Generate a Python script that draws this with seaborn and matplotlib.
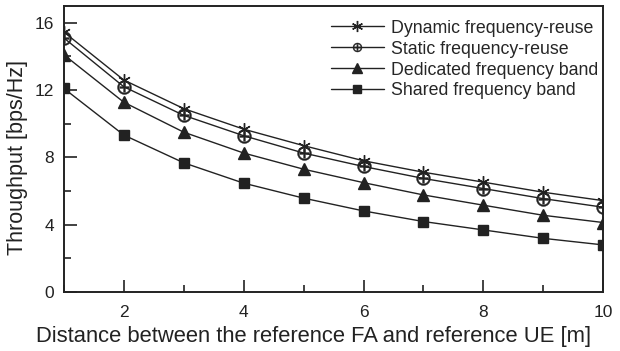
import matplotlib
matplotlib.use("Agg")
import matplotlib.pyplot as plt
from matplotlib.ticker import MultipleLocator
import seaborn as sns
import pandas as pd

distance = [1, 2, 3, 4, 5, 6, 7, 8, 9, 10]
dynamic_reuse = [15.45, 12.6, 10.9, 9.68, 8.7, 7.8, 7.12, 6.53, 5.93, 5.43]
static_reuse = [15.1, 12.2, 10.5, 9.29, 8.26, 7.46, 6.75, 6.15, 5.55, 5.04]
dedicated_band = [14.1, 11.28, 9.5, 8.26, 7.3, 6.5, 5.77, 5.16, 4.56, 4.13]
shared_band = [12.1, 9.33, 7.68, 6.47, 5.58, 4.82, 4.19, 3.69, 3.19, 2.8]

series_names = ["Dynamic frequency-reuse", "Static frequency-reuse",
                "Dedicated frequency band", "Shared frequency band"]
series_values = [dynamic_reuse, static_reuse, dedicated_band, shared_band]

x_ticks = [2, 4, 6, 8, 10]
y_ticks = [0, 4, 8, 12, 16]

sns.set_theme(style="ticks")
plt.rcParams["font.family"] = ["Liberation Sans", "DejaVu Sans"]
plt.rcParams["mathtext.fontset"] = "dejavusans"

fig = plt.figure(figsize=(6.2, 3.51), dpi=100)
ax = fig.add_axes([0.103, 0.168, 0.870, 0.815])

ink = "#222222"
marker_styles = [
    dict(marker=(6, 2, 0), markersize=9, markeredgewidth=1.0),
    dict(marker="$\\oplus$", markersize=10, markeredgewidth=0.3),
    dict(marker="^", markersize=8, markeredgewidth=1.0),
    dict(marker="s", markersize=6.5, markeredgewidth=1.0),
]
legend_sizes = [8, 6.5, 7.5, 6]

for name, values, mstyle in zip(series_names, series_values, marker_styles):
    df = pd.DataFrame({"distance": distance, "throughput": values})
    sns.lineplot(data=df, x="distance", y="throughput", color=ink,
                 linewidth=1.0, markerfacecolor=ink, markeredgecolor=ink,
                 label=name, ax=ax, legend=False, **mstyle)

handles = []
for mstyle, msize in zip(marker_styles, legend_sizes):
    hs = dict(mstyle)
    hs["markersize"] = msize
    handles.append(plt.Line2D([], [], color=ink, linewidth=1.0,
                              markerfacecolor=ink, markeredgecolor=ink, **hs))
ax.legend(handles, series_names, loc="upper right", frameon=False,
          fontsize=12.8, handlelength=3.0, handletextpad=0.4,
          labelspacing=0.22, borderaxespad=0.0, borderpad=0.0,
          bbox_to_anchor=(0.991, 0.952))

ax.set_xlim(1, 10)
ax.set_ylim(0, 17)
ax.set_xticks(x_ticks)
ax.set_yticks(y_ticks)
ax.xaxis.set_minor_locator(MultipleLocator(1))
ax.yaxis.set_minor_locator(MultipleLocator(2))
ax.tick_params(which="major", direction="in", length=9, width=1.2,
               labelsize=12.5, colors=ink, pad=7)
ax.tick_params(axis="x", which="major", pad=9)
ax.tick_params(which="minor", direction="in", length=5, width=1.2,
               colors=ink)
ax.tick_params(top=False, right=False, which="both")
for s in ax.spines.values():
    s.set_linewidth(1.4)
    s.set_color(ink)

ax.set_xlabel("Distance between the reference FA and reference UE [m]",
              fontsize=15.8, color=ink, va="baseline")
ax.xaxis.set_label_coords(0.462, -0.175)
ax.set_ylabel("Throughput [bps/Hz]", fontsize=15.5, color=ink,
              va="center")
ax.yaxis.set_label_coords(-0.086, 0.472)

fig.savefig("out.png", dpi=100)
